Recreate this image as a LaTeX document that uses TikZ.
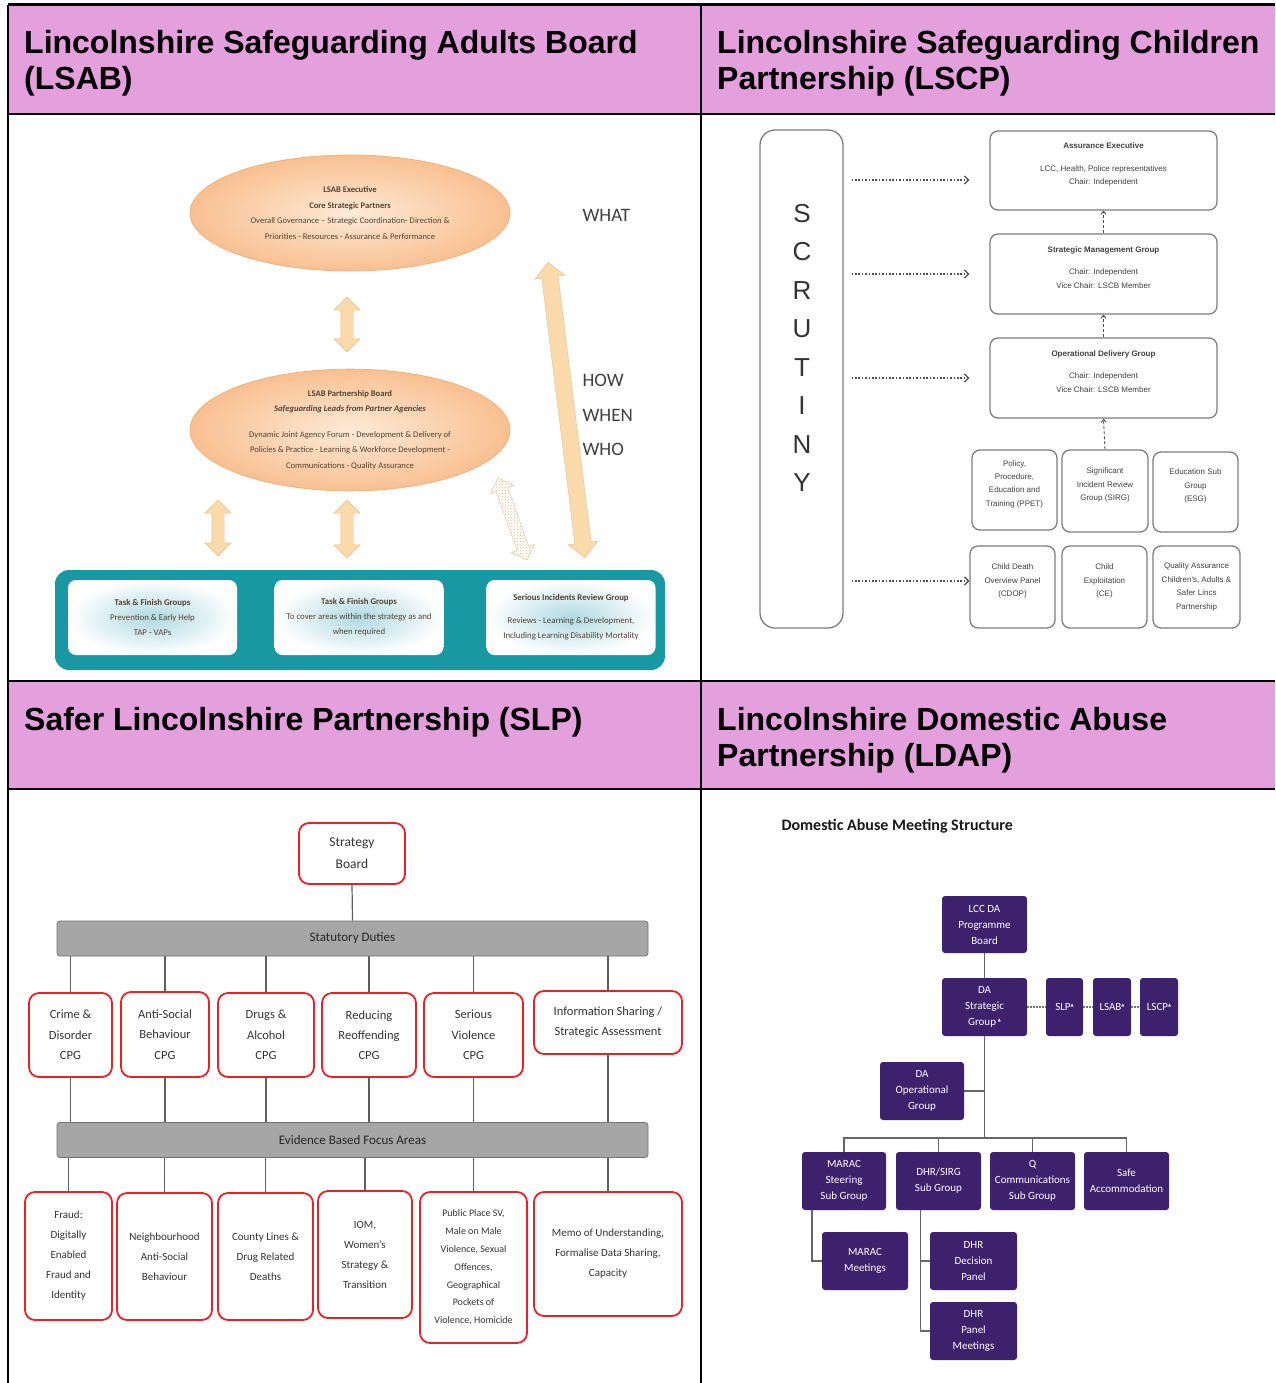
\documentclass[tikz,border=0pt]{standalone}
\usepackage{fontspec}
\setmainfont{Carlito}
\newfontfamily\arialfont{Liberation Sans}
\newfontfamily\dejavu{DejaVu Sans}
\usetikzlibrary{shapes.geometric,shapes.arrows,patterns,arrows.meta}

\definecolor{headpink}{RGB}{228,160,220}
\definecolor{peach}{RGB}{249,192,145}
\definecolor{peachlight}{RGB}{253,234,215}
\definecolor{peachedge}{RGB}{238,178,125}
\definecolor{arrowfill}{RGB}{250,218,170}
\definecolor{arrowedge}{RGB}{232,190,140}
\definecolor{lsabtext}{RGB}{85,65,50}
\definecolor{lsabteal}{RGB}{24,152,163}
\definecolor{tealpale}{RGB}{175,218,226}
\definecolor{boxgrey}{RGB}{125,125,125}
\definecolor{slpred}{RGB}{232,32,40}
\definecolor{bargrey}{RGB}{166,166,166}
\definecolor{linegrey}{RGB}{95,95,95}
\definecolor{dapurple}{RGB}{62,33,108}

\newcommand{\tri}{\raisebox{0.7ex}{\dejavu\fontsize{4}{4}\selectfont ▲}}

\tikzset{
  header/.style={anchor=north west, inner sep=0pt, align=left,
    font=\arialfont\bfseries\fontsize{32}{36}\selectfont},
  board/.style={ellipse, draw=peachedge, line width=0.8pt, inner color=peachlight,
    outer color=peach, minimum width=320pt, minimum height=116pt, align=center,
    text=lsabtext, font=\fontsize{8.6}{15.5}\selectfont},
  blockarrow/.style={double arrow, draw=arrowedge, fill=arrowfill, minimum width=26pt,
    double arrow head extend=7pt, inner sep=6pt},
  taskbox/.style={rounded corners=8pt, inner color=tealpale, outer color=white,
    minimum width=169pt, minimum height=75pt, align=center, text=lsabtext,
    font=\fontsize{8.8}{15}\selectfont},
  scrutbox/.style={draw=boxgrey, line width=1.3pt, rounded corners=15pt,
    minimum width=83pt, minimum height=498pt},
  lscpbox/.style={draw=boxgrey, line width=1.3pt, rounded corners=8pt, align=center,
    text=black!75, font=\arialfont\fontsize{8}{13.4}\selectfont, inner sep=2pt},
  scrutarrow/.style={dash pattern=on 1.6pt off 1.8pt, line width=1.3pt, draw=black!70,
    -{Straight Barb[length=4pt,width=8pt]}},
  uparrow/.style={densely dashed, line width=0.9pt, draw=black!70,
    -{Straight Barb[length=3pt,width=5pt]}},
  slpbox/.style={draw=slpred, line width=1.8pt, rounded corners=10pt, fill=white,
    align=center, text=black!80, inner sep=2pt},
  slpbar/.style={draw=black!55, fill=bargrey, line width=0.8pt, rounded corners=3pt,
    minimum width=591pt, minimum height=35pt, text=black!85,
    font=\fontsize{13}{16}\selectfont},
  slpline/.style={draw=linegrey, line width=1.2pt},
  dabox/.style={fill=dapurple, rounded corners=3pt, text=white, align=center,
    font=\fontsize{11}{16}\selectfont, minimum width=85pt, minimum height=58pt,
    inner sep=1pt},
  daline/.style={draw=black!60, line width=1.5pt},
  dadots/.style={draw=black!55, line width=2pt, densely dotted}
}

\begin{document}
\begin{tikzpicture}[x=1pt, y=-1pt]
  \useasboundingbox (0,0) rectangle (1275,1383);
  \fill[white] (0,0) rectangle (1275,1383);

  % table
  \fill[headpink] (8,5) rectangle (1275,114);
  \fill[headpink] (8,681) rectangle (1275,789);
  \draw[line width=3pt] (8,5) -- (1275,5);
  \draw[line width=2.5pt] (8,114) -- (1275,114);
  \draw[line width=2.5pt] (8,681) -- (1275,681);
  \draw[line width=2.5pt] (8,789) -- (1275,789);
  \draw[line width=1.5pt] (8,5) -- (8,1383);
  \draw[line width=1.5pt] (701,5) -- (701,1383);

  \node[header] (hdlsab) at (24,30) {Lincolnshire Safeguarding Adults Board\\(LSAB)};
  \node[header] (hdlscp) at (717,30) {Lincolnshire Safeguarding Children\\Partnership (LSCP)};
  \node[header] (hdslp) at (24,707) {Safer Lincolnshire Partnership (SLP)};
  \node[header] (hdldap) at (717,707) {Lincolnshire Domestic Abuse\\Partnership (LDAP)};

  % LSAB
  \node[board] (exec) at (350,213) {\textbf{LSAB Executive}\\\textbf{Core Strategic Partners}\\
    Overall Governance -- Strategic Coordination- Direction \&\\
    Priorities - Resources - Assurance \& Performance};
  \node[board, minimum height=120pt] (pboard) at (350,430) {\textbf{LSAB Partnership Board}\\
    \textbf{\itshape Safeguarding Leads from Partner Agencies}\\[10pt]
    Dynamic Joint Agency Forum - Development \& Delivery of\\
    Policies \& Practice - Learning \& Workforce Development -\\
    Communications - Quality Assurance};
  \node[anchor=west, text=black!75, font=\fontsize{19}{34.5}\selectfont] (what) at (579,215) {WHAT};
  \node[anchor=west, align=left, text=black!75, font=\fontsize{19}{34.5}\selectfont] (howwho) at (579,415) {HOW\\WHEN\\WHO};

  \node[rounded corners=14pt, fill=lsabteal, minimum width=610pt, minimum height=100pt] (tgroups) at (360,620) {};
  \node[taskbox] (task1) at (152.5,617.5) {\textbf{Task \& Finish Groups}\\Prevention \& Early Help\\TAP - VAPs};
  \node[taskbox] (task2) at (359,617.5) {\textbf{Task \& Finish Groups}\\To cover areas within the strategy as and\\when required};
  \node[taskbox] (task3) at (571,617.5) {\textbf{Serious Incidents Review Group}\\[8pt]Reviews - Learning \& Development,\\Including Learning Disability Mortality};

  \node[blockarrow, minimum height=55pt, rotate=90] (arrexec) at (347,324.5) {};
  \node[blockarrow, minimum height=56pt, rotate=90] (arrtask1) at (218,528) {};
  \node[blockarrow, minimum height=58pt, rotate=90] (arrtask2) at (347,529) {};
  \node[blockarrow, minimum height=298pt, minimum width=30pt, inner sep=8pt, rotate=-82.9] (arrwhat) at (566.5,410) {};
  \node[double arrow, draw=arrowedge, pattern=crosshatch dots, pattern color=arrowedge,
    minimum width=24pt, double arrow head extend=6pt, inner sep=6pt,
    minimum height=87pt, rotate=-70.5] (arrsirg) at (512.5,519) {};

  % LSCP
  \node[scrutbox] (scrut) at (801.5,379) {};
  \node[align=center, font=\arialfont\fontsize{26}{38.5}\selectfont, text=black!80] (scruttext) at (802,348)
    {S\\C\\R\\U\\T\\I\\N\\Y};
  \node[lscpbox, minimum width=227pt, minimum height=79pt] (assur) at (1103.5,170.5)
    {\textbf{Assurance Executive}\\[9pt]LCC, Health, Police representatives\\Chair: Independent\\\mbox{}};
  \node[lscpbox, minimum width=227pt, minimum height=80pt] (smg) at (1103.5,274)
    {\textbf{Strategic Management Group}\\[9pt]Chair: Independent\\Vice Chair: LSCB Member\\\mbox{}};
  \node[lscpbox, minimum width=227pt, minimum height=80pt] (odg) at (1103.5,378)
    {\textbf{Operational Delivery Group}\\[9pt]Chair: Independent\\Vice Chair: LSCB Member\\\mbox{}};
  \node[lscpbox, minimum width=85pt, minimum height=80pt] (ppet) at (1014.5,490)
    {Policy,\\Procedure,\\Education and\\Training (PPET)\\\mbox{}};
  \node[lscpbox, minimum width=86pt, minimum height=82pt] (sirg) at (1105,491)
    {Significant\\Incident Review\\Group (SIRG)\\\mbox{}};
  \node[lscpbox, minimum width=85pt, minimum height=80pt] (esg) at (1195.5,492)
    {Education Sub\\Group\\(ESG)\\\mbox{}};
  \node[lscpbox, minimum width=85pt, minimum height=82pt] (cdop) at (1012.5,587)
    {Child Death\\Overview Panel\\(CDOP)\\\mbox{}};
  \node[lscpbox, minimum width=85pt, minimum height=82pt] (ce) at (1104.5,587)
    {Child\\Exploitation\\(CE)\\\mbox{}};
  \node[lscpbox, minimum width=87pt, minimum height=82pt] (qa) at (1196.5,587)
    {Quality Assurance\\Children's, Adults \&\\Safer Lincs\\Partnership};

  \draw[scrutarrow, shorten <=8pt, shorten >=20pt] (scrut.east |- 0,180) -- (assur.west |- 0,180);
  \draw[scrutarrow, shorten <=8pt, shorten >=20pt] (scrut.east |- smg) -- (smg.west);
  \draw[scrutarrow, shorten <=8pt, shorten >=20pt] (scrut.east |- odg) -- (odg.west);
  \draw[scrutarrow, shorten <=8pt] (scrut.east |- 0,581) -- (cdop.west |- 0,581);
  \draw[uparrow] (smg.north) -- (assur.south);
  \draw[uparrow] (odg.north) -- (smg.south);
  \draw[uparrow] (sirg.north) -- (odg.south);

  % SLP
  \node[slpbox, minimum width=106pt, minimum height=61pt, font=\fontsize{13.5}{22}\selectfont] (board) at (352,853.5) {Strategy\\Board};
  \node[slpbar] (duties) at (352.5,938.5) {Statutory Duties};
  \node[slpbar] (focus) at (352.5,1140) {Evidence Based Focus Areas};

  \begin{scope}[every node/.append style={font=\fontsize{12.5}{20.3}\selectfont}]
    \node[slpbox, minimum width=83pt, minimum height=84pt] (crime) at (70.5,1035) {Crime \&\\Disorder\\CPG};
    \node[slpbox, minimum width=88pt, minimum height=85pt] (asb) at (165,1034.5) {Anti-Social\\Behaviour\\CPG};
    \node[slpbox, minimum width=96pt, minimum height=84pt] (drugs) at (266,1035) {Drugs \&\\Alcohol\\CPG};
    \node[slpbox, minimum width=94pt, minimum height=84pt] (reoff) at (369,1035) {Reducing\\Reoffending\\CPG};
    \node[slpbox, minimum width=99pt, minimum height=84pt] (violence) at (473.5,1035) {Serious\\Violence\\CPG};
    \node[slpbox, minimum width=148pt, minimum height=63pt] (infoshare) at (608,1022.5) {Information Sharing /\\Strategic Assessment};
  \end{scope}

  \begin{scope}[every node/.append style={font=\fontsize{11}{20}\selectfont}]
    \node[slpbox, minimum width=87pt, minimum height=128pt] (fraud) at (68.5,1256) {Fraud:\\Digitally\\Enabled\\Fraud and\\Identity};
    \node[slpbox, minimum width=95pt, minimum height=127pt] (neigh) at (164.5,1256.5) {Neighbourhood\\Anti-Social\\Behaviour};
    \node[slpbox, minimum width=95pt, minimum height=127pt] (county) at (265.5,1256.5) {County Lines \&\\Drug Related\\Deaths};
    \node[slpbox, minimum width=94pt, minimum height=127pt] (iom) at (365,1254.5) {IOM,\\Women's\\Strategy \&\\Transition};
    \node[slpbox, minimum width=107pt, minimum height=151pt, font=\fontsize{10}{17.8}\selectfont] (public) at (473.5,1267.5)
      {Public Place SV,\\Male on Male\\Violence, Sexual\\Offences,\\Geographical\\Pockets of\\Violence, Homicide};
    \node[slpbox, minimum width=148pt, minimum height=124pt] (memo) at (608,1254) {Memo of Understanding,\\Formalise Data Sharing,\\Capacity};
  \end{scope}

  \draw[slpline] (board.south) -- (duties.north);
  \foreach \b in {crime,asb,drugs,reoff,violence,infoshare} {
    \draw[slpline] (duties.south -| \b.north) -- (\b.north);
    \draw[slpline] (\b.south) -- (\b.south |- focus.north);
  }
  \foreach \b in {fraud,neigh,county,iom,public,memo}
    \draw[slpline] (focus.south -| \b.north) -- (\b.north);

  % LDAP
  \node[anchor=west, font=\fontsize{16}{18}\selectfont\bfseries, text=black!90] (datitle) at (778,826) {Domestic Abuse Meeting Structure};
  \node[dabox, minimum height=57pt] (progboard) at (984.5,924.5) {LCC DA\\Programme\\Board};
  \node[dabox] (stratgrp) at (984.5,1007) {DA\\Strategic\\Group\,\tri};
  \node[dabox, minimum width=37pt] (daslp) at (1064.5,1007) {SLP\tri};
  \node[dabox, minimum width=38pt] (dalsab) at (1112,1007) {LSAB\tri};
  \node[dabox, minimum width=38pt] (dalscp) at (1159,1007) {LSCP\tri};
  \node[dabox, minimum width=84pt] (opgrp) at (922,1091) {DA\\Operational\\Group};
  \node[dabox, minimum width=84pt] (maracsg) at (844,1181) {MARAC\\Steering\\Sub Group};
  \node[dabox] (dhrsirg) at (938.5,1181) {DHR/SIRG\\Sub Group};
  \node[dabox] (qcomms) at (1032.5,1181) {Q\\Communications\\Sub Group};
  \node[dabox] (safeacc) at (1126.5,1181) {Safe\\Accommodation};
  \node[dabox, minimum width=86pt] (maracmt) at (865,1261) {MARAC\\Meetings};
  \node[dabox, minimum width=87pt] (dhrdec) at (973.5,1261) {DHR\\Decision\\Panel};
  \node[dabox, minimum width=87pt] (dhrpanel) at (973.5,1331) {DHR\\Panel\\Meetings};
  \coordinate (trunk) at (984.5,1138);

  \draw[daline] (progboard.south) -- (stratgrp.north);
  \draw[daline] (stratgrp.south) -- (trunk);
  \draw[daline] (opgrp.east) -- (opgrp.east -| trunk);
  \draw[daline] (maracsg.north) |- (trunk) -| (safeacc.north);
  \draw[daline] (dhrsirg.north) -- (dhrsirg.north |- trunk);
  \draw[daline] (qcomms.north) -- (qcomms.north |- trunk);
  \draw[daline] ([xshift=10pt]maracsg.south west) |- (maracmt.west);
  \draw[daline] ([xshift=-18pt]dhrsirg.south) |- (dhrdec.west);
  \draw[daline] ([xshift=-18pt]dhrsirg.south) |- (dhrpanel.west);
  \draw[dadots] (stratgrp.east) -- (daslp.west);
  \draw[dadots] (daslp.east) -- (dalsab.west);
  \draw[dadots] (dalsab.east) -- (dalscp.west);
\end{tikzpicture}
\end{document}
